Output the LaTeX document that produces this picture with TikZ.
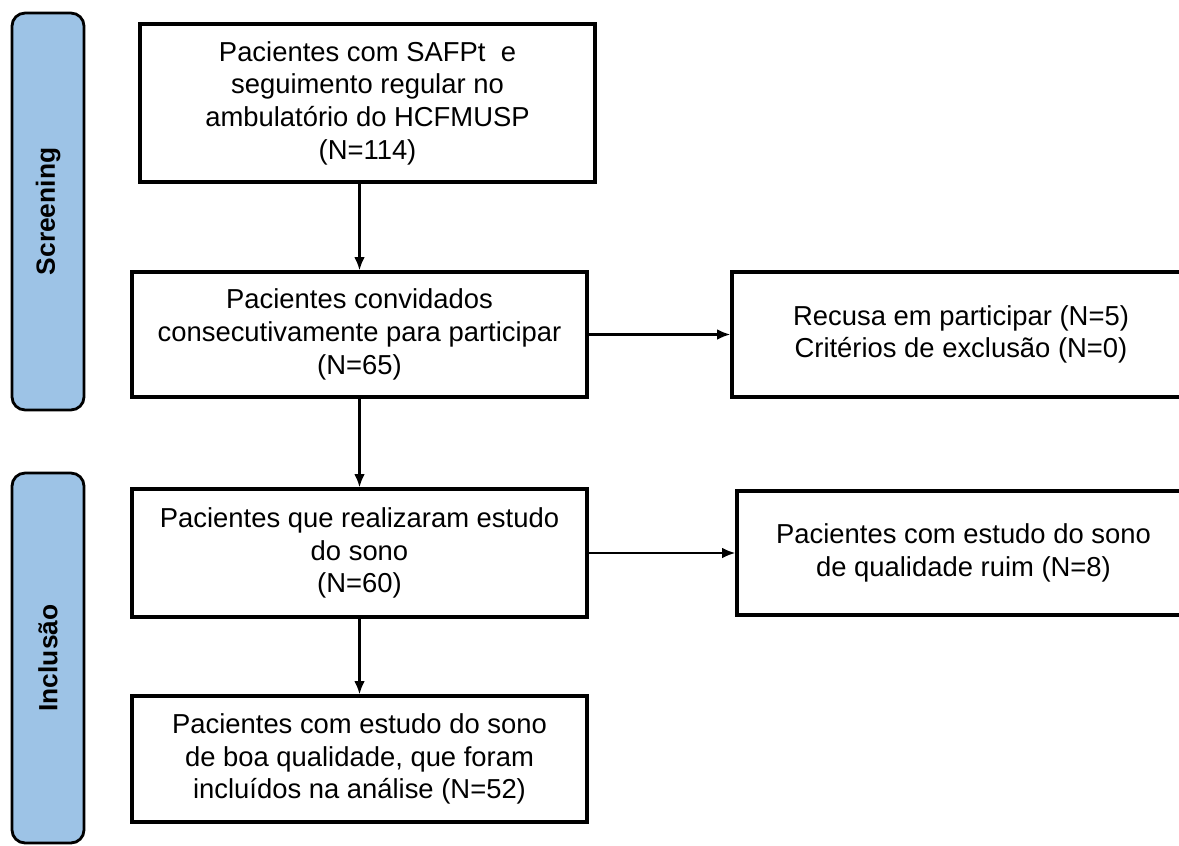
\documentclass[tikz,border=0pt]{standalone}
\usepackage{fontspec}
\setmainfont{Liberation Sans}
\usetikzlibrary{arrows.meta}
\definecolor{phaseblue}{RGB}{157,195,230}

\begin{document}
\begin{tikzpicture}[->,>={Latex[length=7.5pt,width=6pt]},x=0.02cm,y=-0.02cm,
      line width=1.3pt,
      box/.style={draw,line width=1.9pt,align=center,inner sep=0pt,
        minimum width=9.1cm,minimum height=2.5cm,
        font=\fontsize{15.6}{18.6}\selectfont},
      phase/.style={draw,line width=1.6pt,fill=phaseblue,rounded corners=0.26cm,
        rotate=90,minimum height=1.44cm,inner sep=0pt,
        font=\bfseries\fontsize{15}{18}\selectfont}]
    \useasboundingbox (0,0) rectangle (1179,845);
    \clip (0,0) rectangle (1179,845);
    % phases on the left
    \node[phase,minimum width=7.94cm] (scr) at (48,211.5) {Screening};
    \node[phase,minimum width=7.4cm] (inc) at (48,658) {Inclusão};
    % flow
    \node[box,minimum height=3.16cm] (tot) at (367.5,103)
      {Pacientes com SAFPt\ \ e\\seguimento regular no\\ambulatório do HCFMUSP\\(N=114)};
    \node[box] (conv) at (359.5,334.5)
      {Pacientes convidados\\consecutivamente para participar\\(N=65)};
    \node[box,minimum width=9.16cm] (rec) at (961,334.5)
      {Recusa em participar (N=5)\\Critérios de exclusão (N=0)};
    \node[box,minimum height=2.56cm] (est) at (359.5,553)
      {Pacientes que realizaram estudo\\do sono\\(N=60)};
    \node[box,minimum width=9.06cm,minimum height=2.48cm] (ruim) at (963.5,553)
      {Pacientes com estudo do sono\\de qualidade ruim (N=8)};
    \node[box,minimum height=2.52cm] (incl) at (359.5,759)
      {Pacientes com estudo do sono\\de boa qualidade, que foram\\incluídos na análise (N=52)};
    \path (conv.north |- tot.south) edge (conv)
    (conv) edge (rec)
    edge (est)
    (est) edge (ruim)
    edge (incl);
  \end{tikzpicture}
\end{document}
